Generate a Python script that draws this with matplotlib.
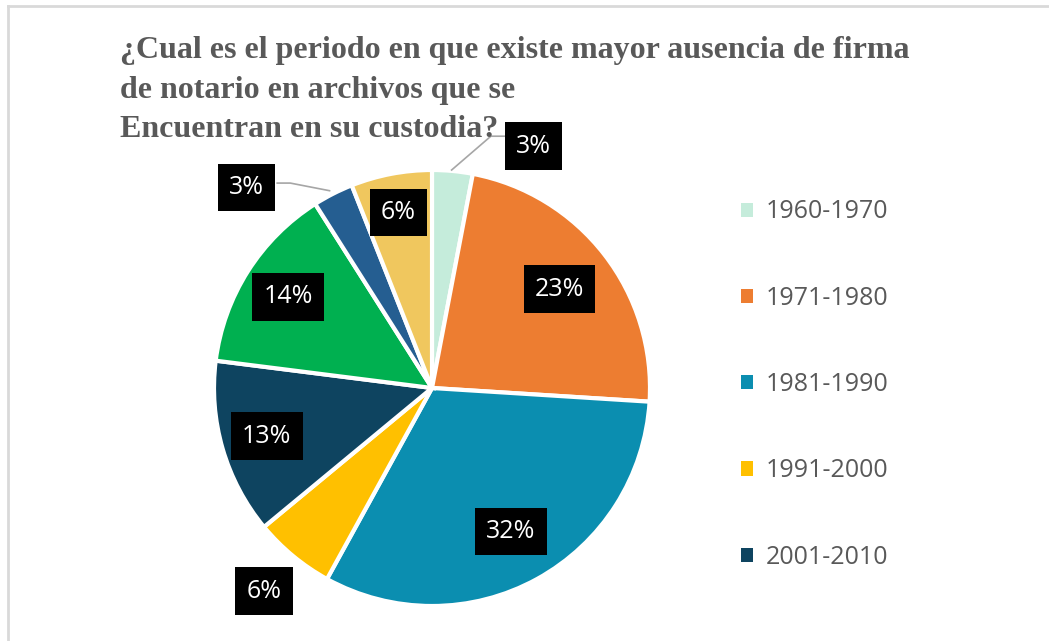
import numpy as np
import matplotlib.pyplot as plt
from matplotlib.lines import Line2D

# Data
periods = ['1960-1970', '1971-1980', '1981-1990', '1991-2000', '2001-2010',
           '2011-2015', '2016-2018', '2019-2020']
shares = [3, 23, 32, 6, 13, 14, 3, 6]
colors = ['#C5ECDB', '#ED7D31', '#0B8EB0', '#FFC000', '#0E4460',
          '#00B050', '#255E91', '#F0C75E']
title = ('\u00bfCual es el periodo en que existe mayor ausencia de firma\n'
         'de notario en archivos que se\n'
         'Encuentran en su custodia?')

W, H = 1049, 641
fig = plt.figure(figsize=(W / 100, H / 100), dpi=100)

# chart area border (top and left visible)
fig.add_artist(Line2D([8 / W, 8 / W], [0, 1 - 6 / H], color='#D9D9D9', lw=2))
fig.add_artist(Line2D([8 / W, 1], [1 - 6 / H, 1 - 6 / H], color='#D9D9D9', lw=2))

# pie axes: centre (432, 388), radius 218 px
cx, cy, r = 432, 388, 218
ax = fig.add_axes([(cx - r) / W, (H - cy - r) / H, 2 * r / W, 2 * r / H])
wedges, _ = ax.pie(shares, colors=colors, startangle=90, counterclock=False,
                   radius=1, wedgeprops=dict(edgecolor='white', linewidth=3))
ax.set_xlim(-1, 1)
ax.set_ylim(-1, 1)
ax.set_aspect('equal')
ax.axis('off')

# label placement (radius factor for each slice)
label_r = [None, 0.74, 0.75, 1.21, 0.79, 0.78, None, 0.82]
box = dict(boxstyle='square,pad=0.45', facecolor='black', edgecolor='none')
lab_font = dict(family='Open Sans', fontsize=18, color='white',
                ha='center', va='center')
for w, v, lr in zip(wedges, shares, label_r):
    mid = np.deg2rad((w.theta1 + w.theta2) / 2)
    if lr is None:
        continue
    ax.text(lr * np.cos(mid), lr * np.sin(mid), f'{v}%', bbox=box,
            clip_on=False, **lab_font)

# outside labels with leader lines
ax.text(0.465, 1.11, f'{shares[0]}%', bbox=box, clip_on=False, **lab_font)
ax.plot([0.09, 0.27, 0.35], [1.0, 1.155, 1.155], color='#A6A6A6', lw=1.2,
        clip_on=False)
ax.text(-0.85, 0.92, f'{shares[6]}%', bbox=box, clip_on=False, **lab_font)
ax.plot([-0.71, -0.65, -0.47], [0.94, 0.94, 0.905], color='#A6A6A6', lw=1.2,
        clip_on=False)

# title
fig.text(120 / W, 1 - 36 / H, title, ha='left', va='top',
         family='Liberation Serif', fontweight='bold', fontsize=23,
         color='#595959', linespacing=1.48)

# legend (first five entries only, the rest is cut off)
leg = fig.legend(wedges[:5], periods[:5], loc='upper left',
                 bbox_to_anchor=(718 / W, 1 - 177 / H), frameon=False,
                 prop=dict(family='Open Sans', size=18), labelcolor='#595959',
                 handlelength=0.5, handleheight=0.5, handletextpad=0.5,
                 labelspacing=2.45)
for h in leg.legend_handles:
    h.set_edgecolor('none')

fig.savefig('out.png', dpi=100, facecolor='white')
